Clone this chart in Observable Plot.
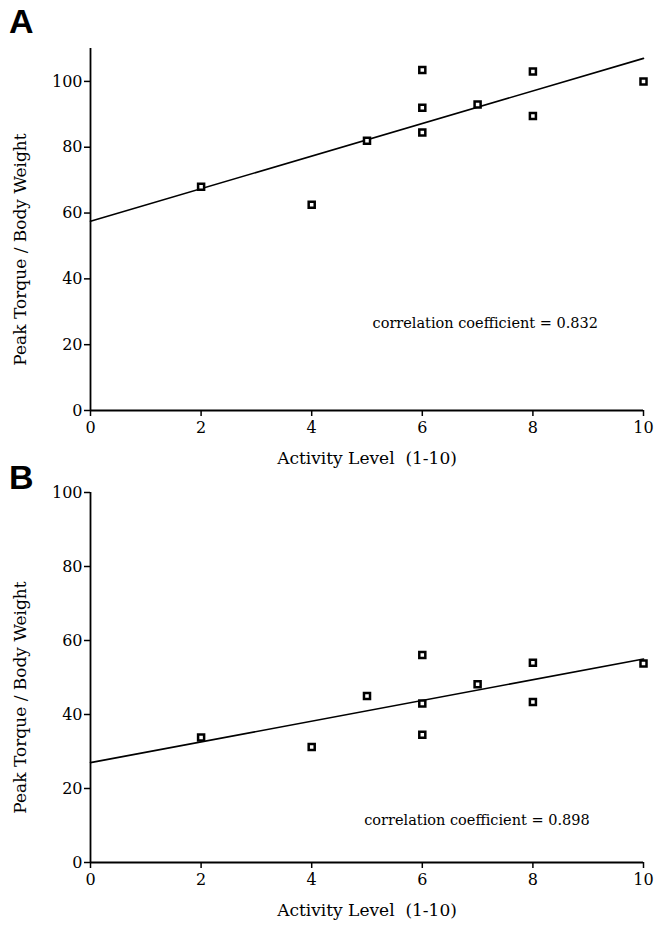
<!DOCTYPE html>
<html>
<head>
<meta charset="utf-8">
<script src="https://cdn.jsdelivr.net/npm/d3@7"></script>
<script src="https://cdn.jsdelivr.net/npm/@observablehq/plot@0.6"></script>
<style>
  html, body { margin: 0; padding: 0; background: #fff; }
  #wrap { position: relative; width: 663px; height: 933px; }
  .panel-letter { position: absolute; font-family: "Liberation Sans", Arial, sans-serif; font-weight: bold; font-size: 34px; line-height: 1; color: #000; }
  #chartA { position: absolute; left: 0; top: 0; }
  #chartB { position: absolute; left: 0; top: 470px; }
</style>
</head>
<body>
<div id="wrap">
  <div id="chartA"></div>
  <div id="chartB"></div>
  <div class="panel-letter" style="left:9px; top:4px;">A</div>
  <div class="panel-letter" style="left:9px; top:460px;">B</div>
</div>
<script>
// ---- Data ----
const activityA = [2, 4, 5, 6, 6, 6, 7, 8, 8, 10];
const torqueA   = [68, 62.5, 82, 103.5, 92, 84.5, 93, 103, 89.5, 100];
const fitA      = [[0, 57.5], [10, 107]];   // regression line endpoints
const corrA     = "correlation coefficient = 0.832";

const activityB = [2, 4, 5, 6, 6, 6, 7, 8, 8, 10];
const torqueB   = [33.8, 31.2, 45, 56.1, 43, 34.5, 48.2, 54, 43.4, 53.8];
const fitB      = [[0, 27], [10, 55]];
const corrB     = "correlation coefficient = 0.898";

const xTicks = [0, 2, 4, 6, 8, 10];
const yTicks = [0, 20, 40, 60, 80, 100];
const xLabel = "Activity Level\u00a0\u00a0(1-10)";
const yLabel = "Peak Torque / Body Weight";

const serif = "'DejaVu Serif', 'Liberation Serif', serif";

function panel({xs, ys, fit, corr, corrPos, yMax, height, marginTop, marginBottom, xLabelDy}) {
  const pts = xs.map((x, i) => ({x, y: ys[i]}));
  const line = fit.map(([x, y]) => ({x, y}));
  return Plot.plot({
    width: 663,
    height,
    marginLeft: 90,
    marginRight: 20,
    marginTop,
    marginBottom,
    style: {fontFamily: serif, fontSize: "15px", color: "#000", background: "#fff", overflow: "visible"},
    x: {domain: [0, 10]},
    y: {domain: [0, yMax]},
    marks: [
      Plot.axisX({ticks: xTicks, tickSize: 6, tickPadding: 5, label: null, fontSize: 16, strokeWidth: 1.5}),
      Plot.axisY({ticks: yTicks, tickSize: 6, tickPadding: 2, label: null, fontSize: 16, strokeWidth: 1.5}),
      Plot.ruleX([0], {stroke: "#000", strokeWidth: 1.8}),
      Plot.ruleY([0], {stroke: "#000", strokeWidth: 1.8}),
      Plot.line(line, {x: "x", y: "y", stroke: "#000", strokeWidth: 1.6}),
      Plot.dot(pts, {x: "x", y: "y", symbol: "square", r: 3.4, fill: "#fff", stroke: "#000", strokeWidth: 2.5}),
      Plot.text([corr], {x: corrPos[0], y: corrPos[1], text: d => d, textAnchor: "start", fontSize: 14.5}),
      Plot.text([xLabel], {frameAnchor: "bottom", textAnchor: "middle", dy: xLabelDy, fontSize: 17}),
      Plot.text([yLabel], {frameAnchor: "left", textAnchor: "middle", rotate: -90, dx: -70, dy: 20, fontSize: 17})
    ]
  });
}

document.getElementById("chartA").append(panel({
  xs: activityA, ys: torqueA, fit: fitA, corr: corrA, corrPos: [5.1, 26.4],
  yMax: 110, height: 470, marginTop: 48, marginBottom: 60, xLabelDy: 53
}));
document.getElementById("chartB").append(panel({
  xs: activityB, ys: torqueB, fit: fitB, corr: corrB, corrPos: [4.95, 11.4],
  yMax: 100, height: 463, marginTop: 22, marginBottom: 71, xLabelDy: 53
}));
</script>
</body>
</html>
